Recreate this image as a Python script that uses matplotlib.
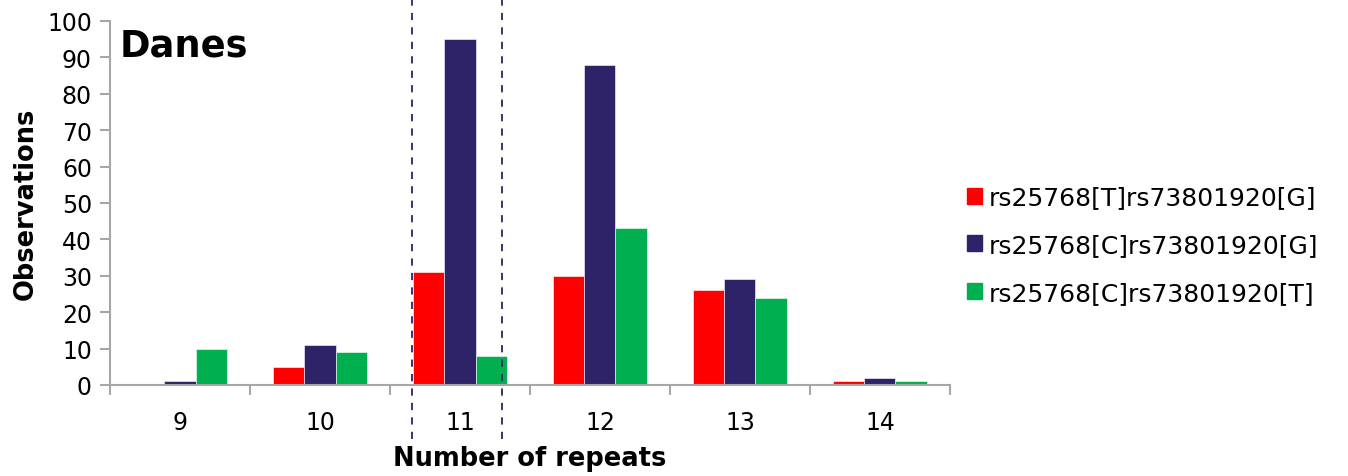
import numpy as np
import matplotlib
matplotlib.use("Agg")
import matplotlib.pyplot as plt
from matplotlib.patches import Patch

repeats = ["9", "10", "11", "12", "13", "14"]
series_names = ["rs25768[T]rs73801920[G]", "rs25768[C]rs73801920[G]", "rs25768[C]rs73801920[T]"]
t_g = [0, 5, 31, 30, 26, 1]
c_g = [1, 11, 95, 88, 29, 2]
c_t = [10, 9, 8, 43, 24, 1]
colors = ["#FF0000", "#2E2268", "#00B050"]

fig = plt.figure(figsize=(13.48, 4.77), dpi=100)
ax = fig.add_axes([0.0816, 0.1908, 0.6231, 0.7631])

x = np.arange(len(repeats))
w = 0.222
for i, vals in enumerate([t_g, c_g, c_t]):
    ax.bar(x + (i - 1) * w, vals, width=w, color=colors[i], edgecolor="white", linewidth=0.4, zorder=2)

ax.set_xlim(-0.5, len(repeats) - 0.5)
ax.set_ylim(0, 100)
ax.set_yticks(range(0, 101, 10))
ax.set_xticks(x)
ax.set_xticklabels(repeats)
ax.set_xticks(np.arange(-0.5, len(repeats), 1), minor=True)
ax.tick_params(axis="x", which="major", length=0, pad=18, labelsize=17)
ax.tick_params(axis="x", which="minor", length=7, color="#A6A6A6", width=1.5)
ax.tick_params(axis="y", length=7, color="#A6A6A6", width=1.5, labelsize=17, direction="out", pad=6)

for s in ["top", "right"]:
    ax.spines[s].set_visible(False)
for s in ["left", "bottom"]:
    ax.spines[s].set_color("#A6A6A6")
    ax.spines[s].set_linewidth(1.5)

ax.set_ylabel("Observations", fontsize=18.5, fontweight="bold", labelpad=6)
ax.set_xlabel("Number of repeats", fontsize=18.5, fontweight="bold", labelpad=8)

ax.text(0.012, 0.935, "Danes", transform=ax.transAxes, fontsize=26.5, fontweight="bold", va="center")

# dashed markers around repeat 11
for xv in [1.657, 2.30]:
    ax.axvline(xv, ymin=-0.148, ymax=1.07, color="#2E2268", linestyle=(0, (4, 4)), linewidth=1.3, clip_on=False, zorder=3)

handles = [Patch(color=c) for c in colors]
fig.legend(handles, series_names, loc="center left", bbox_to_anchor=(0.7174, 0.484), frameon=False,
           fontsize=18, handlelength=0.6, handleheight=0.6, handletextpad=0.25, labelspacing=0.95,
           borderpad=0, borderaxespad=0)

fig.savefig("out.png", dpi=100)
